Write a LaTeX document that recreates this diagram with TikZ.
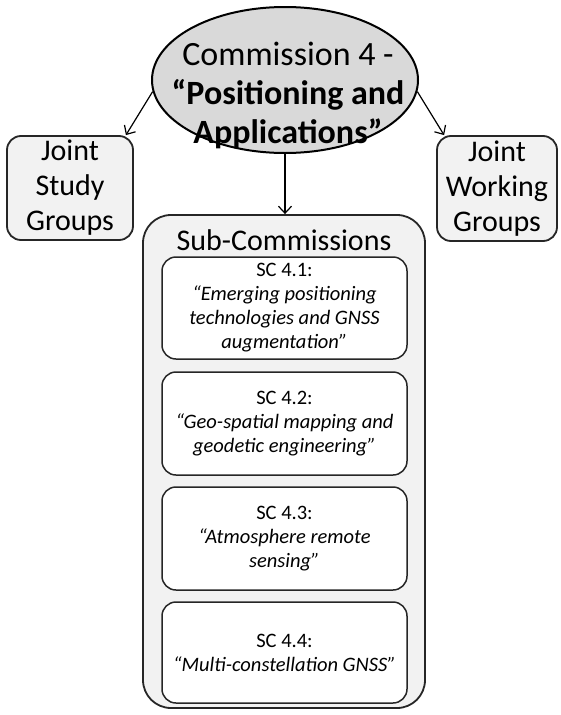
\documentclass[tikz,border=0pt]{standalone}
\usepackage{fontspec}
\setmainfont{Carlito}
\usetikzlibrary{shapes.geometric,arrows.meta}
\definecolor{ellfill}{HTML}{D9D9D9}
\definecolor{boxfill}{HTML}{F2F2F2}
\tikzset{
  outerbox/.style={draw=black!85, line width=1.8pt, rounded corners=14pt, fill=boxfill, align=center},
  subbox/.style={draw=black!85, line width=1.8pt, rounded corners=28pt, fill=boxfill},
  scbox/.style={draw=black!85, line width=1.5pt, rounded corners=14pt, fill=white, align=center,
     minimum width=245pt, inner sep=0pt, font=\fontsize{20.5}{24}\selectfont},
  arr/.style={line width=1.2pt, -{Straight Barb[length=7pt,width=13pt,line width=1.2pt]}},
}
\begin{document}
\begin{tikzpicture}[x=1pt,y=-1pt]
\useasboundingbox (0,0) rectangle (560,715);
% main ellipse
\node[ellipse, draw=black, line width=2pt, fill=ellfill, minimum width=266pt, minimum height=146pt, inner sep=0pt] (comm) at (285,80) {};
\node[align=center, font=\fontsize{34}{39}\selectfont] (commtext) at (288,95)
  {Commission 4 -\\ \textbf{“Positioning and}\\ \textbf{Applications”}};
% joint groups
\node[outerbox, minimum width=126pt, minimum height=104pt, inner sep=0pt, font=\fontsize{30}{35}\selectfont] (jsg) at (70,188) {Joint\\Study\\Groups};
\node[outerbox, minimum width=120pt, minimum height=105pt, inner sep=0pt, font=\fontsize{30}{35}\selectfont] (jwg) at (497,188.5) {Joint\\Working\\Groups};
% sub-commissions container
\node[subbox, minimum width=282pt, minimum height=493pt, inner sep=0pt] (sub) at (284,461.5) {};
\node[font=\fontsize{30}{32}\selectfont] (subtitle) at (284,240) {Sub-Commissions};
% SC boxes
\node[scbox, minimum height=102pt] (sc1) at (284.5,308) {SC 4.1:\\\textit{“Emerging positioning}\\\textit{technologies and GNSS}\\\textit{augmentation”}};
\node[scbox, minimum height=103pt] (sc2) at (284.5,423.5) {SC 4.2:\\\textit{“Geo-spatial mapping and}\\\textit{geodetic engineering”}};
\node[scbox, minimum height=103pt] (sc3) at (284.5,538.5) {SC 4.3:\\\textit{“Atmosphere remote}\\\textit{sensing”}};
\node[scbox, minimum height=101pt] (sc4) at (284.5,652.5) {SC 4.4:\\\textit{“Multi-constellation GNSS”}};
% arrows
\draw[arr] (comm.185) -- ([xshift=-8pt]jsg.north east);
\draw[arr] (comm.-5) -- ([xshift=8pt]jwg.north west);
\draw[arr] (comm.south) -- (comm.south |- sub.north);
\end{tikzpicture}
\end{document}
